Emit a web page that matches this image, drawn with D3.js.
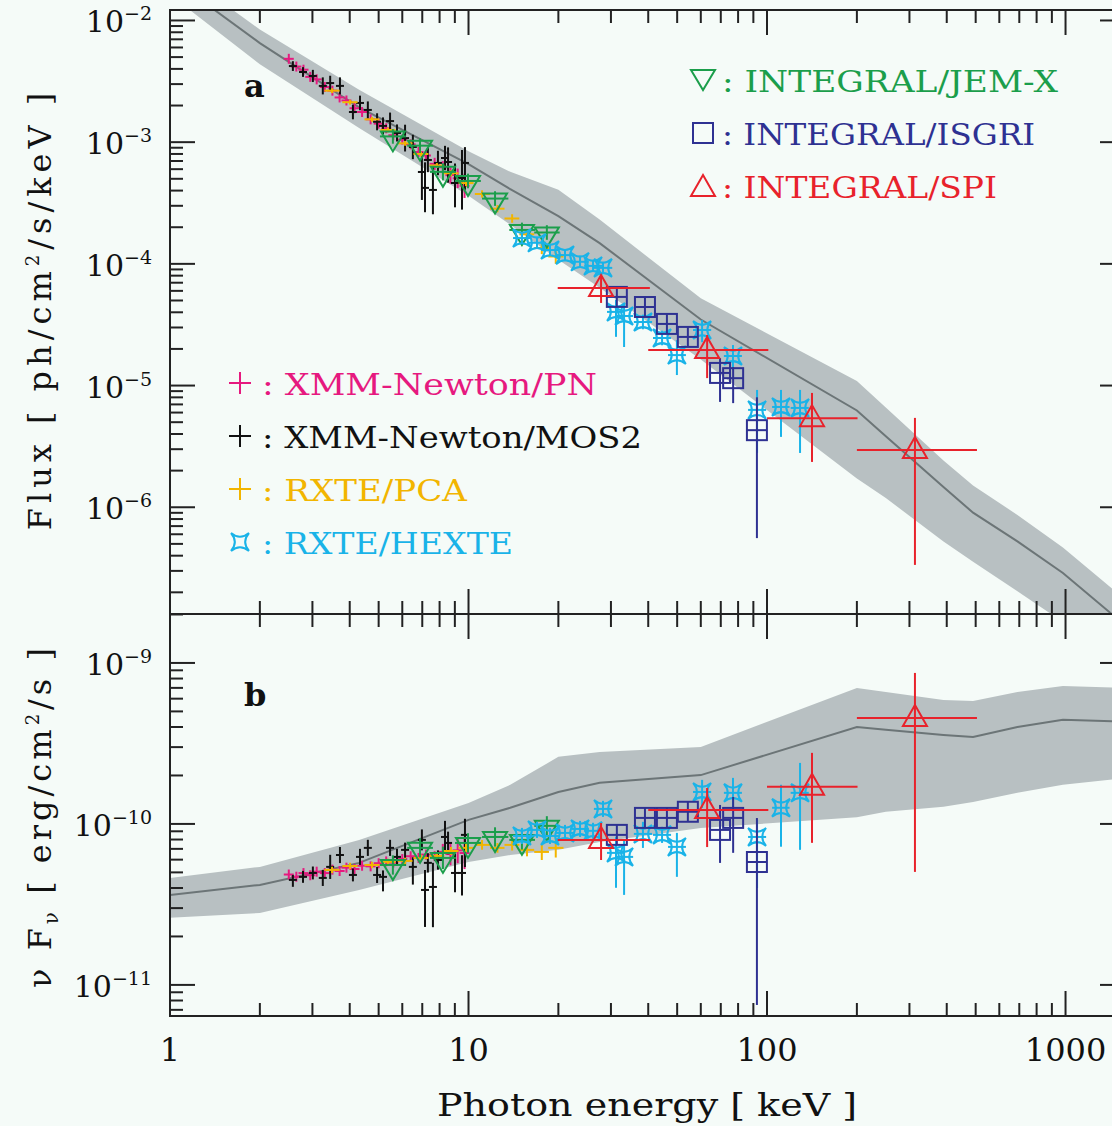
<!DOCTYPE html>
<html><head><meta charset="utf-8">
<script src="https://cdn.jsdelivr.net/npm/d3@7"></script>
<style>
html,body{margin:0;padding:0;background:#f5fbf8;}
svg{display:block;}
text{font-family:"DejaVu Serif",serif;}
</style></head><body>
<svg id="chart" width="1112" height="1126"></svg>
<script>
// ---------------- DATA ----------------
const xTickLabels = ["1","10","100","1000"];
const xTickValues = [1,10,100,1000];
const topTickExp = [-2,-3,-4,-5,-6];
const botTickExp = [-9,-10,-11];

// model band (energy in keV)
const bandEnergy = [1, 2, 4.3, 10, 13.8, 20, 27.5, 60, 200, 250, 390, 490, 690, 980, 1600];
const bandTopUpper  = [2.88e-2, 8.43e-3, 2.69e-3, 8.41e-4, 5.71e-4, 4.06e-4, 2.31e-4, 5.21e-5, 1.09e-5, 6.59e-6, 2.42e-6, 1.51e-6, 8.65e-7, 4.68e-7, 1.71e-7];
const bandTopCenter = [2.26e-2, 6.52e-3, 1.93e-3, 6.61e-4, 4.11e-4, 2.47e-4, 1.48e-4, 3.49e-5, 6.24e-6, 3.83e-6, 1.47e-6, 9.02e-7, 5.24e-7, 2.88e-7, 1.05e-7];
const bandTopLower  = [1.63e-2, 4.37e-3, 1.31e-3, 3.62e-4, 2.10e-4, 1.08e-4, 6.37e-5, 1.64e-5, 1.72e-6, 1.19e-6, 5.24e-7, 3.56e-7, 2.04e-7, 1.14e-7, 4.71e-8];
const bandBotUpper  = [4.62e-11, 5.41e-11, 7.96e-11, 1.35e-10, 1.75e-10, 2.61e-10, 2.80e-10, 3.01e-10, 7.00e-10, 6.61e-10, 5.89e-10, 5.81e-10, 6.61e-10, 7.19e-10, 7.00e-10];
const bandBotCenter = [3.62e-11, 4.18e-11, 5.73e-11, 1.06e-10, 1.26e-10, 1.58e-10, 1.80e-10, 2.01e-10, 4.00e-10, 3.84e-10, 3.57e-10, 3.47e-10, 4.00e-10, 4.43e-10, 4.31e-10];
const bandBotLower  = [2.61e-11, 2.80e-11, 3.89e-11, 5.81e-11, 6.41e-11, 6.90e-11, 7.73e-11, 9.44e-11, 1.10e-10, 1.19e-10, 1.28e-10, 1.37e-10, 1.56e-10, 1.75e-10, 1.93e-10];

// XMM-Newton/PN : [E, value, err down (dex), err up (dex)]
const pnTop = [[2.5,4.84e-3,.03,.03],[2.65,4.18e-3,.03,.03],[2.8,3.94e-3,.03,.03],[2.95,3.44e-3,.03,.03],[3.1,3.28e-3,.03,.03],[3.3,2.84e-3,.03,.03],[3.5,2.65e-3,.03,.03],[3.7,2.33e-3,.03,.03],[3.9,2.20e-3,.03,.03],[4.15,1.90e-3,.03,.03],[4.4,1.77e-3,.03,.03],[4.7,1.54e-3,.03,.03],[5.0,1.42e-3,.03,.03],[5.3,1.30e-3,.03,.03],[5.6,1.14e-3,.035,.035],[6.0,1.05e-3,.035,.035],[6.4,9.60e-4,.04,.04],[6.8,8.30e-4,.04,.04],[7.2,7.77e-4,.04,.04],[7.7,6.63e-4,.05,.05],[8.2,6.22e-4,.05,.05],[8.7,5.36e-4,.07,.07],[9.2,5.05e-4,.08,.08],[9.7,4.38e-4,.1,.1]];
const pnBottom = [[2.5,4.85e-11,.025,.025],[2.65,4.70e-11,.025,.025],[2.8,4.95e-11,.025,.025],[2.95,4.80e-11,.025,.025],[3.1,5.05e-11,.025,.025],[3.3,4.95e-11,.025,.025],[3.5,5.20e-11,.025,.025],[3.7,5.10e-11,.025,.025],[3.9,5.35e-11,.025,.025],[4.15,5.25e-11,.025,.025],[4.4,5.50e-11,.025,.025],[4.7,5.45e-11,.025,.025],[5.0,5.70e-11,.025,.025],[5.3,5.85e-11,.025,.025],[5.6,5.75e-11,.025,.025],[6.0,6.05e-11,.025,.025],[6.4,6.30e-11,.03,.03],[6.8,6.15e-11,.03,.03],[7.2,6.45e-11,.03,.03],[7.7,6.30e-11,.03,.03],[8.2,6.70e-11,.05,.05],[8.7,6.50e-11,.07,.07],[9.2,6.85e-11,.08,.08],[9.7,6.60e-11,.1,.1]];

// XMM-Newton/MOS2 : [E, value, err down (dex), err up (dex)]
const mosTop = [[2.58,4.22e-3,.04,.04],[2.79,3.77e-3,.04,.04],[3.01,3.50e-3,.05,.05],[3.25,2.90e-3,.07,.07],[3.44,3.06e-3,.06,.06],[3.71,2.90e-3,.07,.07],[4.10,1.77e-3,.06,.06],[4.33,2.10e-3,.06,.06],[4.60,1.84e-3,.07,.07],[4.94,1.47e-3,.07,.07],[5.17,1.36e-3,.07,.07],[5.46,1.49e-3,.07,.07],[5.76,1.19e-3,.07,.07],[6.13,1.08e-3,.11,.11],[6.51,9.13e-4,.10,.10],[6.98,5.69e-4,.23,.16],[7.15,4.21e-4,.20,.21],[7.31,7.14e-4,.10,.10],[7.60,4.05e-4,.20,.19],[7.90,6.75e-4,.10,.10],[8.34,7.41e-4,.10,.10],[8.54,6.87e-4,.17,.12],[9.01,4.62e-4,.20,.16],[9.51,5.08e-4,.26,.23],[9.73,6.75e-4,.22,.13]];
const mosBottom = [[2.58,4.49e-11,.043,.031],[2.79,4.69e-11,.037,.037],[3.01,4.96e-11,.04,.04],[3.25,4.62e-11,.05,.05],[3.44,5.41e-11,.075,.075],[3.71,6.41e-11,.05,.05],[4.10,4.82e-11,.04,.04],[4.33,6.24e-11,.05,.05],[4.60,7.10e-11,.05,.05],[4.94,4.82e-11,.05,.05],[5.17,4.69e-11,.09,.04],[5.46,7.10e-11,.05,.05],[5.76,6.24e-11,.05,.05],[6.13,6.90e-11,.10,.045],[6.51,5.41e-11,.11,.06],[6.98,7.96e-11,.065,.065],[7.15,3.89e-11,.23,.124],[7.31,5.73e-11,.06,.06],[7.60,4.06e-11,.25,.15],[7.90,5.97e-11,.06,.06],[8.34,8.30e-11,.10,.10],[8.54,7.62e-11,.07,.07],[9.01,4.96e-11,.12,.12],[9.51,4.96e-11,.14,.11],[9.73,8.55e-11,.20,.10]];

// Binned series : [E, E low, E high, value, err down (dex), err up (dex)]
const pcaTop = [[3.49,3.29,3.70,2.65e-3,.02,.02],[4.01,3.78,4.25,2.13e-3,.02,.02],[4.75,4.48,5.03,1.54e-3,.02,.02],[5.37,5.07,5.69,1.26e-3,.02,.02],[6.13,5.79,6.49,9.78e-4,.02,.02],[6.93,6.54,7.34,7.99e-4,.02,.02],[7.84,7.40,8.30,6.43e-4,.02,.02],[8.74,8.25,9.26,5.55e-4,.025,.025],[9.81,9.26,10.4,4.61e-4,.025,.025],[11.1,10.5,11.8,3.75e-4,.03,.03],[12.5,11.8,13.2,2.84e-4,.03,.03],[14.0,13.2,14.8,2.36e-4,.035,.035],[15.7,14.8,16.6,1.75e-4,.04,.04],[17.6,16.6,18.6,1.35e-4,.05,.05],[19.6,18.5,20.8,1.15e-4,.06,.06]];
const pcaBottom = [[3.49,3.29,3.70,5.18e-11,.02,.02],[4.01,3.78,4.25,5.48e-11,.02,.02],[4.75,4.48,5.03,5.56e-11,.02,.02],[5.37,5.07,5.69,5.81e-11,.02,.02],[6.13,5.79,6.49,5.89e-11,.02,.02],[6.93,6.54,7.34,6.15e-11,.02,.02],[7.84,7.40,8.30,6.33e-11,.02,.02],[8.74,8.25,9.26,6.79e-11,.025,.025],[9.81,9.26,10.4,7.10e-11,.025,.025],[11.1,10.5,11.8,7.41e-11,.03,.03],[12.5,11.8,13.2,7.10e-11,.03,.03],[14.0,13.2,14.8,7.41e-11,.035,.035],[15.7,14.8,16.6,6.90e-11,.04,.04],[17.6,16.6,18.6,6.70e-11,.05,.05],[19.6,18.5,20.8,7.10e-11,.06,.06]];

const jemxTop = [[5.58,5.05,6.17,1.115e-3,.06,.06],[6.88,6.23,7.60,9.36e-4,.06,.06],[8.21,7.43,9.07,5.70e-4,.07,.07],[9.96,9.01,11.0,4.80e-4,.06,.06],[12.27,11.1,13.6,3.44e-4,.06,.06],[15.1,13.7,16.7,1.90e-4,.06,.06],[18.3,16.6,20.2,1.81e-4,.06,.06]];
const jemxBottom = [[5.58,5.05,6.17,5.56e-11,.06,.06],[6.88,6.23,7.60,7.10e-11,.06,.06],[8.21,7.43,9.07,6.15e-11,.07,.07],[9.96,9.01,11.0,7.62e-11,.06,.06],[12.27,11.1,13.6,8.30e-11,.06,.06],[15.1,13.7,16.7,7.96e-11,.06,.06],[18.3,16.6,20.2,9.73e-11,.06,.06]];

const hexteTop = [[15.1,14.1,16.2,1.63e-4,.05,.05],[16.96,15.8,18.2,1.49e-4,.05,.05],[18.75,17.5,20.1,1.30e-4,.05,.05],[21.05,19.6,22.6,1.18e-4,.05,.05],[23.64,22.1,25.3,1.04e-4,.05,.05],[26.13,24.4,28.0,9.62e-5,.05,.05],[28.22,26.3,30.3,9.27e-5,.05,.05],[31.2,29.1,33.4,4.03e-5,.205,.10],[33.2,31.0,35.6,3.73e-5,.255,.107],[38.4,35.8,41.2,3.33e-5,.06,.06],[44.5,41.5,47.7,2.46e-5,.06,.06],[49.9,46.6,53.5,1.78e-5,.164,.123],[60.6,56.5,65.0,2.86e-5,.10,.082],[76.9,71.7,82.4,1.75e-5,.115,.09],[92.6,86.4,99.3,6.31e-6,.353,.164],[111.4,104,119,6.67e-6,.246,.14],[129,120,138,6.55e-6,.37,.148]];
const hexteBottom = [[15.1,14.1,16.2,8.42e-11,.05,.05],[16.96,15.8,18.2,9.18e-11,.05,.05],[18.75,17.5,20.1,8.42e-11,.05,.05],[21.05,19.6,22.6,8.79e-11,.05,.05],[23.64,22.1,25.3,9.31e-11,.05,.05],[26.13,24.4,28.0,9.06e-11,.05,.05],[28.22,26.3,30.3,1.24e-10,.05,.05],[31.2,29.1,33.4,6.61e-11,.217,.10],[33.2,31.0,35.6,6.24e-11,.236,.106],[38.4,35.8,41.2,8.67e-11,.087,.075],[44.5,41.5,47.7,8.55e-11,.05,.05],[49.9,46.6,53.5,7.20e-11,.186,.087],[60.6,56.5,65.0,1.58e-10,.10,.075],[76.9,71.7,82.4,1.56e-10,.093,.093],[92.6,86.4,99.3,8.30e-11,.317,.106],[111.4,104,119,1.26e-10,.242,.143],[129,120,138,1.56e-10,.354,.186]];

const isgriTop = [[31.4,29.1,33.9,5.35e-5,.08,.08],[39.0,36.2,42.1,4.42e-5,.085,.085],[46.2,42.8,49.8,3.21e-5,.08,.08],[54.3,50.3,58.6,2.51e-5,.08,.08],[69.6,64.5,75.1,1.27e-5,.238,.123],[77.0,71.4,83.1,1.15e-5,.205,.09],[92.5,85.7,99.8,4.3e-6,.887,.27]];
const isgriBottom = [[31.4,29.1,33.9,8.55e-11,.062,.062],[39.0,36.2,42.1,1.09e-10,.062,.062],[46.2,42.8,49.8,1.09e-10,.062,.062],[54.3,50.3,58.6,1.19e-10,.062,.062],[69.6,64.5,75.1,9.18e-11,.205,.155],[77.0,71.4,83.1,1.09e-10,.217,.13],[92.5,85.7,99.8,5.8e-11,.888,.273]];

const spiTop = [[27.8,19.9,40.5,6.34e-5,.123,.107],[63,40,101,1.96e-5,.231,.123],[141.5,100,201,5.4e-6,.36,.207],[313,200,505,2.96e-6,.945,.263]];
const spiBottom = [[27.8,19.9,40.5,7.96e-11,.125,.105],[63,40,101,1.22e-10,.23,.137],[141.5,100,201,1.70e-10,.348,.211],[313,200,505,4.55e-10,.956,.28]];

const legendRight = [
  {label:": INTEGRAL/JEM-X", shape:"triDown", color:"#1b9e4b"},
  {label:": INTEGRAL/ISGRI", shape:"square", color:"#2e3192"},
  {label:": INTEGRAL/SPI", shape:"triUp", color:"#e8222b"}
];
const legendLeft = [
  {label:": XMM-Newton/PN", shape:"plus", color:"#e6197f"},
  {label:": XMM-Newton/MOS2", shape:"plus", color:"#111111"},
  {label:": RXTE/PCA", shape:"plus", color:"#f2b500"},
  {label:": RXTE/HEXTE", shape:"star", color:"#19b3e8"}
];

// ---------------- LAYOUT ----------------
const W = 1112, H = 1126;
const L = 170, R = 1125, T = 10, MID = 614, B = 1016;
const C = {pn:"#e6197f", mos:"#111111", pca:"#f2b500", hexte:"#19b3e8", jemx:"#1b9e4b", isgri:"#2e3192", spi:"#e8222b"};

const x = d3.scaleLog().domain([1, 1582]).range([L, R]);
const yTop = d3.scaleLog().domain([1.327e-7, 1.219e-2]).range([MID, T]);
const yBot = d3.scaleLog().domain([6.41e-12, 2.014e-9]).range([B, MID]);

const svg = d3.select("#chart");
svg.append("rect").attr("width", W).attr("height", H).attr("fill", "#f5fbf8");
const defs = svg.append("defs");
defs.append("clipPath").attr("id","clipTop").append("rect").attr("x",L).attr("y",T).attr("width",R-L).attr("height",MID-T);
defs.append("clipPath").attr("id","clipBot").append("rect").attr("x",L).attr("y",MID).attr("width",R-L).attr("height",B-MID);

// marker helpers
function marker(g, shape, cx, cy, color, s) {
  s = s || 1;
  let el;
  if (shape === "triDown") {
    el = g.append("path").attr("d", `M${cx-12*s},${cy-5*s}L${cx+12*s},${cy-5*s}L${cx},${cy+15*s}Z`);
  } else if (shape === "triUp") {
    el = g.append("path").attr("d", `M${cx},${cy-13*s}L${cx+12*s},${cy+8*s}L${cx-12*s},${cy+8*s}Z`);
  } else if (shape === "square") {
    el = g.append("rect").attr("x", cx-10*s).attr("y", cy-10*s).attr("width", 20*s).attr("height", 20*s);
  } else if (shape === "star") {
    const r = 9*s, k = 0.15*r;
    el = g.append("path").attr("d",
      `M${cx+r},${cy-r}Q${cx+k},${cy} ${cx+r},${cy+r}Q${cx},${cy+k} ${cx-r},${cy+r}Q${cx-k},${cy} ${cx-r},${cy-r}Q${cx},${cy-k} ${cx+r},${cy-r}Z`);
  } else if (shape === "plus") {
    el = g.append("path").attr("d", `M${cx-11*s},${cy}H${cx+11*s}M${cx},${cy-11*s}V${cy+11*s}`);
  }
  el.attr("stroke", color).attr("stroke-width", 2).attr("fill", "none");
}

function crosses(g, data, yS, color, arm) {
  data.forEach(([E, v, dn, up]) => {
    const cx = x(E), cy = yS(v);
    const yHi = Math.min(yS(v * Math.pow(10, up)), cy - arm);
    const yLo = Math.max(yS(v / Math.pow(10, dn)), cy + arm);
    g.append("line").attr("x1", cx).attr("x2", cx).attr("y1", yHi).attr("y2", yLo)
      .attr("stroke", color).attr("stroke-width", 2);
    g.append("line").attr("x1", cx-arm).attr("x2", cx+arm).attr("y1", cy).attr("y2", cy)
      .attr("stroke", color).attr("stroke-width", 2);
  });
}

function binned(g, data, yS, color, shape) {
  data.forEach(([E, Elo, Ehi, v, dn, up]) => {
    const cx = x(E), cy = yS(v);
    g.append("line").attr("x1", cx).attr("x2", cx)
      .attr("y1", yS(v * Math.pow(10, up))).attr("y2", yS(v / Math.pow(10, dn)))
      .attr("stroke", color).attr("stroke-width", 2);
    g.append("line").attr("x1", x(Elo)).attr("x2", x(Ehi)).attr("y1", cy).attr("y2", cy)
      .attr("stroke", color).attr("stroke-width", 2);
    if (shape) marker(g, shape, cx, cy, color);
  });
}

function drawPanel(clipId, yS, upper, center, lower, sets) {
  const g = svg.append("g").attr("clip-path", `url(#${clipId})`);
  const bd = bandEnergy.map((E, i) => ({E, u: upper[i], c: center[i], l: lower[i]}));
  g.append("path").datum(bd)
    .attr("d", d3.area().x(d => x(d.E)).y0(d => yS(d.l)).y1(d => yS(d.u)))
    .attr("fill", "#b8c0c2");
  g.append("path").datum(bd)
    .attr("d", d3.line().x(d => x(d.E)).y(d => yS(d.c)))
    .attr("fill", "none").attr("stroke", "#6c7577").attr("stroke-width", 2);
  crosses(g, sets.pn, yS, C.pn, 5);
  crosses(g, sets.mos, yS, C.mos, 4);
  binned(g, sets.pca, yS, C.pca, null);
  binned(g, sets.jemx, yS, C.jemx, "triDown");
  binned(g, sets.hexte, yS, C.hexte, "star");
  binned(g, sets.isgri, yS, C.isgri, "square");
  binned(g, sets.spi, yS, C.spi, "triUp");
}

drawPanel("clipTop", yTop, bandTopUpper, bandTopCenter, bandTopLower,
  {pn: pnTop, mos: mosTop, pca: pcaTop, jemx: jemxTop, hexte: hexteTop, isgri: isgriTop, spi: spiTop});
drawPanel("clipBot", yBot, bandBotUpper, bandBotCenter, bandBotLower,
  {pn: pnBottom, mos: mosBottom, pca: pcaBottom, jemx: jemxBottom, hexte: hexteBottom, isgri: isgriBottom, spi: spiBottom});

// ---------------- AXES ----------------
const axisG = svg.append("g").attr("stroke", "#222").attr("stroke-width", 2);
function logTicks(scale) {
  const [a, b] = scale.domain();
  const lo = Math.min(a,b), hi = Math.max(a,b);
  const out = [];
  for (let d = Math.floor(Math.log10(lo)); d <= Math.ceil(Math.log10(hi)); d++) {
    for (let m = 1; m <= 9; m++) {
      const v = m * Math.pow(10, d);
      if (v >= lo * 0.9999 && v <= hi) out.push({v, major: m === 1});
    }
  }
  return out;
}
const MAJ = 25, MIN = 13;
logTicks(x).forEach(t => {
  const px = x(t.v), len = t.major ? MAJ : MIN;
  [[T, 1], [MID, -1], [MID, 1], [B, -1]].forEach(([y0, dir]) => {
    axisG.append("line").attr("x1", px).attr("x2", px).attr("y1", y0).attr("y2", y0 + dir*len);
  });
});
[yTop, yBot].forEach(yS => {
  logTicks(yS).forEach(t => {
    const py = yS(t.v), len = t.major ? MAJ : MIN;
    axisG.append("line").attr("x1", L).attr("x2", L + len).attr("y1", py).attr("y2", py);
    axisG.append("line").attr("x1", R).attr("x2", R - len).attr("y1", py).attr("y2", py);
  });
});
axisG.append("rect").attr("x", L).attr("y", T).attr("width", R-L).attr("height", B-T).attr("fill", "none");
axisG.append("line").attr("x1", L).attr("x2", R).attr("y1", MID).attr("y2", MID);

// tick labels
const txt = svg.append("g").attr("fill", "#111");
xTickValues.forEach((v, i) => {
  txt.append("text").attr("x", x(v)).attr("y", 1061).attr("text-anchor", "middle")
    .attr("font-size", 32).text(xTickLabels[i]);
});
function yLabel(yS, e) {
  const t = txt.append("text").attr("x", 152).attr("y", yS(Math.pow(10, e)) + 12)
    .attr("text-anchor", "end").attr("font-size", 30);
  t.append("tspan").text("10");
  t.append("tspan").attr("dy", -12).attr("font-size", 19).text("\u2212" + Math.abs(e));
}
topTickExp.forEach(e => yLabel(yTop, e));
botTickExp.forEach(e => yLabel(yBot, e));

// axis titles
txt.append("text").attr("x", 647).attr("y", 1116).attr("text-anchor", "middle")
  .attr("font-size", 32).attr("textLength", 420).attr("lengthAdjust", "spacingAndGlyphs")
  .text("Photon energy [ keV ]");
const t1 = txt.append("text").attr("transform", "translate(51,309) rotate(-90)")
  .attr("text-anchor", "middle").attr("font-size", 32).attr("letter-spacing", 5);
t1.append("tspan").text("Flux [ ph/cm");
t1.append("tspan").attr("dy", -12).attr("font-size", 18).text("2");
t1.append("tspan").attr("dy", 12).text("/s/keV ]");
const t2 = txt.append("text").attr("transform", "translate(51,816) rotate(-90)")
  .attr("text-anchor", "middle").attr("font-size", 32).attr("letter-spacing", 4);
t2.append("tspan").text("\u03bd F");
t2.append("tspan").attr("dy", 7).attr("font-size", 20).text("\u03bd");
t2.append("tspan").attr("dy", -7).text(" [ erg/cm");
t2.append("tspan").attr("dy", -12).attr("font-size", 18).text("2");
t2.append("tspan").attr("dy", 12).text("/s ]");

// panel letters
txt.append("text").attr("x", 244).attr("y", 97).attr("font-size", 32).attr("font-weight", "bold").text("a");
txt.append("text").attr("x", 244).attr("y", 706).attr("font-size", 32).attr("font-weight", "bold").text("b");

// legends
const lg = svg.append("g");
const rightLens = [336, 313, 275];
legendRight.forEach((d, i) => {
  const cy = 80 + i * 53;
  const off = d.shape === "triDown" ? -5 : d.shape === "triUp" ? 2 : 0;
  marker(lg, d.shape, 703, cy + off, d.color);
  lg.append("text").attr("x", 722).attr("y", cy + 12).attr("font-size", 30).attr("fill", d.color)
    .attr("textLength", rightLens[i]).attr("lengthAdjust", "spacingAndGlyphs").text(d.label);
});
const leftLens = [335, 380, 205, 251];
legendLeft.forEach((d, i) => {
  const cy = 383 + i * 53;
  marker(lg, d.shape, 240, cy, d.color);
  lg.append("text").attr("x", 262).attr("y", cy + 12).attr("font-size", 30).attr("fill", d.color)
    .attr("textLength", leftLens[i]).attr("lengthAdjust", "spacingAndGlyphs").text(d.label);
});
</script></body></html>
